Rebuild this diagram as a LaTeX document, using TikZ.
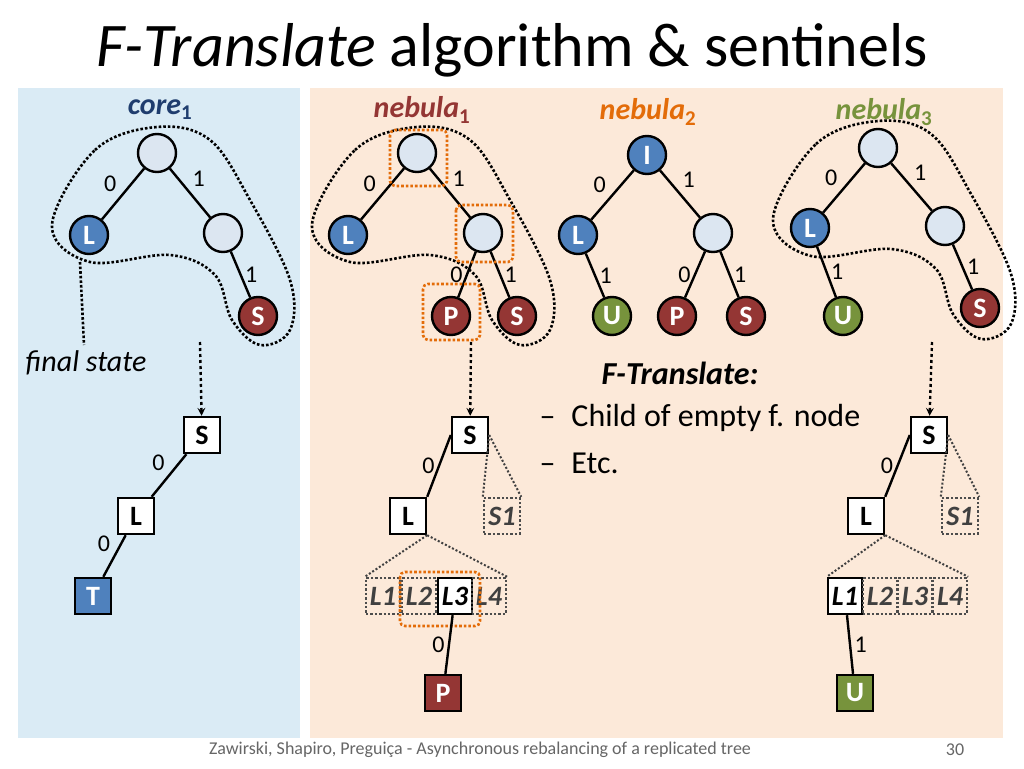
\documentclass[tikz,border=0pt]{standalone}
\usepackage{fontspec}
\setmainfont{Carlito}
\usetikzlibrary{calc}
\definecolor{coreblue}{HTML}{DAEBF5}
\definecolor{nebbg}{HTML}{FCE9D9}
\definecolor{inner}{HTML}{DCE6F1}
\definecolor{lblue}{HTML}{4F81BD}
\definecolor{dred}{HTML}{943634}
\definecolor{dgreen}{HTML}{77933C}
\definecolor{dorange}{HTML}{E36C09}
\definecolor{navy}{HTML}{1F3D6E}
\tikzset{
every picture/.style={
line width=2.4pt
}}
\newcommand{\outline}[2]{%
\draw[dotted, line width=2.6pt, shift={(#1,#2)}] plot[smooth cycle, tension=0.6] coordinates
{(52,225) (95,150) (157,127) (210,140) (250,200) (290,280) (290,330) (260,345) (232,320) (215,275) (170,255) (90,262)};}
\begin{document}
\begin{tikzpicture}[x=1pt, y=-1pt,
circ/.style = {circle, draw=black, minimum size=38pt, inner sep=0pt, text=white, font=\bfseries\fontsize{28}{28}\selectfont},
sq/.style = {rectangle, draw=black, minimum size=36pt, inner sep=0pt, font=\bfseries\fontsize{28}{28}\selectfont},
ghost/.style = {rectangle, draw=black!70, dotted, minimum size=36pt, inner sep=0pt, text=black!75, font=\bfseries\itshape\fontsize{28}{28}\selectfont},
lab/.style = {font=\fontsize{24}{24}\selectfont},
orbox/.style = {draw=dorange, dotted, line width=2.6pt, rounded corners=5pt},
dotline/.style = {dotted, line width=2pt, black!75}]
\useasboundingbox (0,0) rectangle (1024,768);
\fill[white] (0,0) rectangle (1024,768);
\fill[coreblue] (18,88) rectangle (300,738);
\fill[nebbg] (310,88) rectangle (1003,738);
\node at (512,50) {\fontsize{62}{64}\selectfont\textit{F-Translate} algorithm \& sentinels};

% core 1
\node[text=navy, font=\bfseries\itshape\fontsize{30}{30}\selectfont] at (160,110) (ct) {core$_{\mathbf 1}$};
\node[circ, fill=inner] at (157,153) (cr) {};
\node[circ, fill=lblue] at (89,235) (cl) {L};
\node[circ, fill=inner] at (223,233) (cm) {};
\node[circ, fill=dred] at (258,316) (cs) {S};
\draw (cr) -- node[lab, pos=0.55, above left] {0} (cl);
\draw (cr) -- node[lab, pos=0.45, above right] {1} (cm);
\draw (cm) -- node[lab, right] {1} (cs);
\outline{0}{0}
\draw[dotted, line width=2.6pt] (80,262) -- (84,345);
\node[font=\itshape\fontsize{30}{30}\selectfont] at (86,363) (fs) {final state};
\coordinate (ca) at (200,342);
\node[sq, fill=white] at (202,435) (c1) {S};
\node[sq, fill=white] at (136,516) (c2) {L};
\node[sq, fill=lblue, text=white] at (93,596) (c3) {T};
\draw[dashed, -stealth] (ca) -- (c1);
\draw (c1) -- node[lab, above left] {0} (c2);
\draw (c2) -- node[lab, above left] {0} (c3);

% nebula 1
\node[text=dred, font=\bfseries\itshape\fontsize{30}{30}\selectfont] at (422,110) (at) {nebula$_{\mathbf 1}$};
\node[circ, fill=inner] at (417,153) (ar) {};
\node[circ, fill=lblue] at (348,235) (al) {L};
\node[circ, fill=inner] at (483,233) (am) {};
\node[circ, fill=dred] at (451,316) (ap) {P};
\node[circ, fill=dred] at (517,316) (as) {S};
\draw (ar) -- node[lab, pos=0.55, above left] {0} (al);
\draw (ar) -- node[lab, pos=0.45, above right] {1} (am);
\draw (am) -- node[lab, left] {0} (ap);
\draw (am) -- node[lab, right] {1} (as);
\outline{260}{0}
\draw[orbox] (390,130) rectangle (447,186);
\draw[orbox] (456,205) rectangle (513,262);
\draw[orbox] (423,284) rectangle (480,340);
\coordinate (aa) at (471,342);
\node[sq, fill=white] at (470,435) (a1) {S};
\node[sq, fill=white] at (408,516) (a2) {L};
\node[ghost] at (502,516) (a3) {S1};
\node[ghost, minimum width=34pt] at (383,596) (b1) {L1};
\node[ghost, minimum width=34pt] at (419,596) (b2) {L2};
\node[sq, fill=white, minimum width=34pt, font=\bfseries\itshape\fontsize{28}{28}\selectfont] at (455,596) (b3) {L3};
\node[ghost, minimum width=34pt] at (489,596) (b4) {L4};
\node[sq, fill=dred, text=white] at (443,693) (a4) {P};
\draw[dashed, -stealth] (aa) -- (a1);
\draw (a1.west) -- node[lab, left] {0} (a2.north east);
\draw[dotline] (a1.east) -- (a3.north west);
\draw[dotline] (a1.east) -- (a3.north east);
\draw[dotline] (a2.south east) -- (b1.north west);
\draw[dotline] (a2.south east) -- (b4.north east);
\draw[orbox] (400,572) rectangle (480,626);
\draw (b3) -- node[lab, left] {0} (a4);

% nebula 2
\node[text=dorange, font=\bfseries\itshape\fontsize{30}{30}\selectfont] at (648,112) (nt) {nebula$_{\mathbf 2}$};
\node[circ, fill=lblue] at (647,155) (nr) {I};
\node[circ, fill=lblue] at (578,235) (nl) {L};
\node[circ, fill=inner] at (713,233) (nm) {};
\node[circ, fill=dgreen] at (612,316) (nu) {U};
\node[circ, fill=dred] at (677,316) (np) {P};
\node[circ, fill=dred] at (746,316) (ns) {S};
\draw (nr) -- node[lab, pos=0.55, above left] {0} (nl);
\draw (nr) -- node[lab, pos=0.45, above right] {1} (nm);
\draw (nl) -- node[lab, right] {1} (nu);
\draw (nm) -- node[lab, left] {0} (np);
\draw (nm) -- node[lab, right] {1} (ns);

% nebula 3
\node[text=dgreen, font=\bfseries\itshape\fontsize{30}{30}\selectfont] at (884,112) (gt) {nebula$_{\mathbf 3}$};
\node[circ, fill=inner] at (878,148) (gr) {};
\node[circ, fill=lblue] at (810,228) (gl) {L};
\node[circ, fill=inner] at (945,226) (gm) {};
\node[circ, fill=dgreen] at (843,316) (gu) {U};
\node[circ, fill=dred] at (980,308) (gs) {S};
\draw (gr) -- node[lab, pos=0.55, above left] {0} (gl);
\draw (gr) -- node[lab, pos=0.45, above right] {1} (gm);
\draw (gl) -- node[lab, right] {1} (gu);
\draw (gm) -- node[lab, right] {1} (gs);
\outline{721}{-6}
\coordinate (ga) at (932,342);
\node[sq, fill=white] at (929,435) (g1) {S};
\node[sq, fill=white] at (866,516) (g2) {L};
\node[ghost] at (960,516) (g3) {S1};
\node[sq, fill=white, minimum width=34pt, font=\bfseries\itshape\fontsize{28}{28}\selectfont] at (845,596) (h1) {L1};
\node[ghost, minimum width=34pt] at (880,596) (h2) {L2};
\node[ghost, minimum width=34pt] at (915,596) (h3) {L3};
\node[ghost, minimum width=34pt] at (950,596) (h4) {L4};
\node[sq, fill=dgreen, text=white] at (855,693) (g4) {U};
\draw[dashed, -stealth] (ga) -- (g1);
\draw (g1.west) -- node[lab, left] {0} (g2.north east);
\draw[dotline] (g1.east) -- (g3.north west);
\draw[dotline] (g1.east) -- (g3.north east);
\draw[dotline] (g2.south east) -- (h1.north west);
\draw[dotline] (g2.south east) -- (h4.north east);
\draw (h1) -- node[lab, right] {1} (g4);

% text
\node[font=\bfseries\itshape\fontsize{32}{32}\selectfont] at (680,373) (ft) {F-Translate:};
\node[anchor=west, font=\fontsize{32}{32}\selectfont] at (535,418) (f1) {–\enspace Child of empty f. node};
\node[anchor=west, font=\fontsize{32}{32}\selectfont] at (535,463) (f2) {–\enspace Etc.};
\node[text=black!60, font=\fontsize{18}{18}\selectfont] at (480,750) (foot) {Zawirski, Shapiro, Preguiça - Asynchronous rebalancing of a replicated tree};
\node[text=black!60, font=\fontsize{18}{18}\selectfont] at (955,750) (pg) {30};
\end{tikzpicture}
\end{document}
